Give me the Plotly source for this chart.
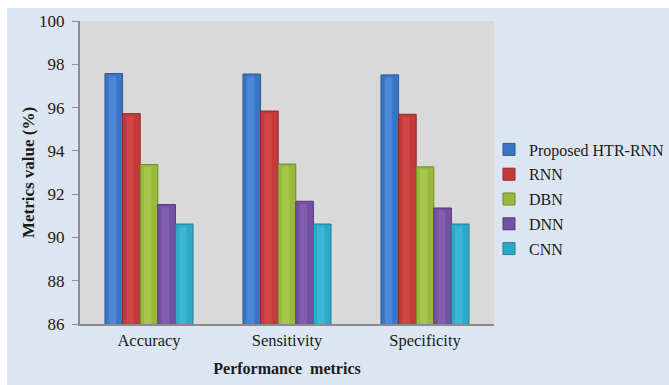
import plotly.graph_objects as go

# Performance metrics on the x axis
categories = ["Accuracy", "Sensitivity", "Specificity"]

# Metric values (%) for each model
series_names = ["Proposed HTR-RNN", "RNN", "DBN", "DNN", "CNN"]
htr_rnn = [97.57, 97.55, 97.51]
rnn = [95.72, 95.84, 95.69]
dbn = [93.37, 93.39, 93.26]
dnn = [91.52, 91.67, 91.36]
cnn = [90.62, 90.62, 90.62]

y_ticks = [86, 88, 90, 92, 94, 96, 98, 100]

# body colour, highlight colour, edge colour for each model
palette = [
    ("#3A75C4", "#5A96DE", "#2C5A94"),
    ("#C43A3A", "#DE4E4E", "#8F2A2A"),
    ("#98B93C", "#B3D353", "#6E8A28"),
    ("#7451A0", "#8E69BA", "#553A78"),
    ("#2DA9C7", "#46C2DF", "#1F7F97"),
]

values = [htr_rnn, rnn, dbn, dnn, cnn]

SERIF = "Liberation Serif, Times New Roman, serif"
bar_w = 0.1276
group_w = bar_w * len(values)

fig = go.Figure()
for i, (name, vals) in enumerate(zip(series_names, values)):
    body, light, edge = palette[i]
    off = -group_w / 2 + i * bar_w
    fig.add_trace(go.Bar(
        x=categories, y=vals, name=name,
        width=bar_w, offset=off,
        marker=dict(color=body, line=dict(color=edge, width=1)),
        legendgroup=name,
    ))
    # soft cylindrical highlight down the bar
    fig.add_trace(go.Bar(
        x=categories, y=[v - 0.12 for v in vals],
        width=bar_w * 0.42, offset=off + bar_w * 0.22,
        marker=dict(color=light, opacity=0.55, line=dict(width=0)),
        showlegend=False, hoverinfo="skip", legendgroup=name,
    ))

W, H = 669, 385
ML, MR, MT, MB = 80, 175, 21, 61
pw, ph = W - ML - MR, H - MT - MB

def px_x(v):
    return (v - ML) / pw

def px_y(v):
    return (H - MB - v) / ph

fig.update_layout(
    width=W, height=H,
    margin=dict(l=ML, r=MR, t=MT, b=MB, autoexpand=False),
    paper_bgcolor="white",
    plot_bgcolor="#D9D9D9",
    barmode="overlay",
    font=dict(family=SERIF, color="#1a1a1a", size=16),
    shapes=[
        dict(type="rect", xref="paper", yref="paper", layer="below",
             x0=px_x(7), x1=px_x(W + 2), y0=px_y(H + 2), y1=px_y(8),
             fillcolor="#DCE6F2", line=dict(width=0)),
        dict(type="rect", xref="paper", yref="paper", layer="below",
             x0=0, x1=1, y0=0, y1=1,
             fillcolor="#D9D9D9", line=dict(width=0)),
    ],
    legend=dict(
        x=px_x(489), xanchor="left", y=px_y(199), yanchor="middle",
        font=dict(family=SERIF, size=16, color="#1a1a1a"),
        bgcolor="rgba(0,0,0,0)", itemwidth=30, tracegroupgap=1,
        traceorder="grouped",
    ),
    xaxis=dict(
        automargin=False,
        showgrid=False, showline=True, linecolor="#8C8C8C", linewidth=2,
        ticks="", tickfont=dict(family=SERIF, size=16.5),
        title=dict(text="<b>Performance  metrics</b>",
                   font=dict(family=SERIF, size=16), standoff=14),
        range=[-0.5, 2.5],
    ),
    yaxis=dict(
        automargin=False,
        range=[86, 100], tickvals=y_ticks, showgrid=False, zeroline=False,
        showline=True, linecolor="#8C8C8C", linewidth=2,
        ticks="outside", ticklen=6, tickcolor="#8C8C8C", tickwidth=1,
        ticklabelstandoff=4,
        tickfont=dict(family=SERIF, size=17),
        title=dict(text="<b>Metrics value (%)</b>",
                   font=dict(family=SERIF, size=17), standoff=0),
    ),
)

fig.write_html("out.html")
